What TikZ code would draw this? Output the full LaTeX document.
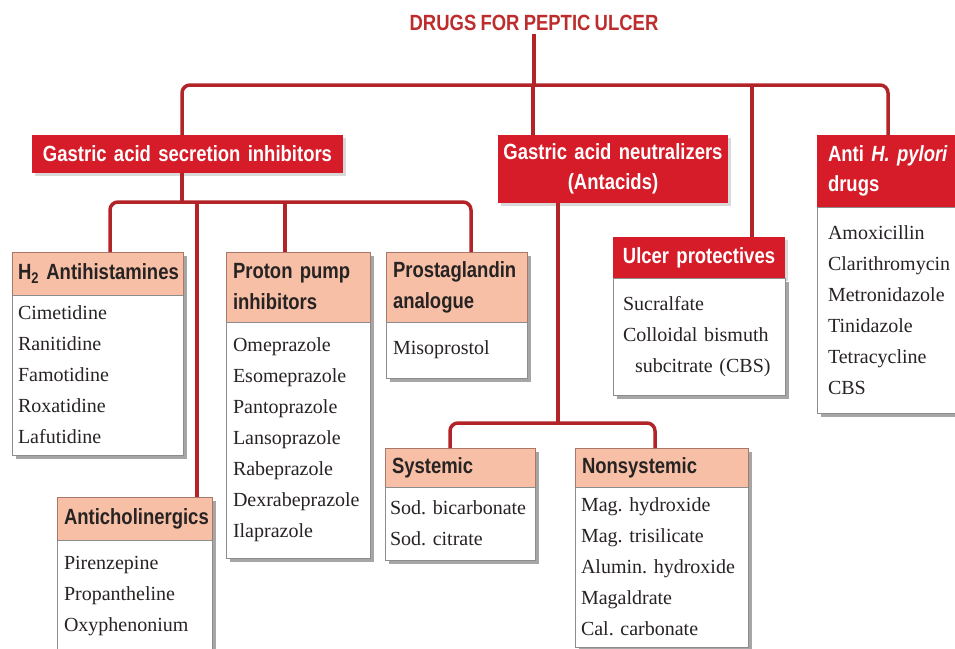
\documentclass[tikz,border=0pt]{standalone}
\usepackage{fontspec}
\setmainfont{Liberation Serif}
\newfontfamily\headfont[FakeStretch=0.84]{Liberation Sans}
\usetikzlibrary{positioning, shadows, calc}

\definecolor{ulcerred}{RGB}{213,28,40}
\definecolor{linkred}{RGB}{178,36,40}
\definecolor{titlered}{RGB}{190,45,45}
\definecolor{salmon}{RGB}{246,191,166}
\definecolor{salmonedge}{RGB}{170,120,105}
\definecolor{boxedge}{RGB}{140,140,140}
\definecolor{inkgray}{RGB}{40,35,35}

\hyphenpenalty=10000
\exhyphenpenalty=10000
\frenchspacing
\newcommand{\headtype}[1]{\headfont\bfseries\fontsize{22}{#1}\selectfont\spaceskip=4.2pt plus 1pt minus 1pt}

\begin{document}
\begin{tikzpicture}[
    x=1pt, y=-1pt,
    every node/.style={outer sep=0pt},
    mainhead/.style={fill=ulcerred, text=white, font=\headtype{30}, align=center, inner sep=0pt, anchor=north west, drop shadow={shadow xshift=3pt, shadow yshift=-3pt, opacity=1, fill=black!15}},
    subhead/.style={draw=salmonedge, line width=0.8pt, fill=salmon, text=inkgray, font=\headtype{31}, align=left, inner xsep=7pt, inner ysep=0pt, anchor=north west, drop shadow={shadow xshift=4pt, shadow yshift=-4pt, opacity=1, fill=black!35}},
    listbox/.style={draw=boxedge, line width=0.8pt, fill=white, text=inkgray, font=\fontsize{20}{31}\selectfont, align=left, inner xsep=7pt, inner ysep=0pt, drop shadow={shadow xshift=4pt, shadow yshift=-4pt, opacity=1, fill=black!35}},
    link/.style={draw=linkred, line width=3.5pt, rounded corners=8pt}
]
    \fill[white] (0,0) rectangle (955,648);
    \useasboundingbox (0,0) rectangle (955,648);

    % Title and first level
    \node[font=\headtype{26}, text=titlered] (title) at (534,23) {DRUGS FOR PEPTIC ULCER};
    \node[mainhead, text width=311pt, minimum height=38pt] (gasi) at (32,135) {Gastric acid secretion inhibitors};
    \node[mainhead, text width=230pt, minimum height=68pt] (gan) at (498,135) {Gastric acid neutralizers\\(Antacids)};
    \node[mainhead, align=left, inner xsep=11pt, text width=128pt, minimum height=72pt] (hpyh) at (817,135) {Anti \textit{H. pylori}\\drugs};
    \node[listbox, inner xsep=11pt, text width=128pt, minimum height=206pt, below=0pt of hpyh] (hpyl) {Amoxicillin\\Clarithromycin\\Metronidazole\\Tinidazole\\Tetracycline\\CBS};
    \node[mainhead, text width=172pt, minimum height=41pt] (ulch) at (613,237) {Ulcer protectives};
    \node[listbox, inner xsep=10pt, text width=152pt, minimum height=117pt, below=0pt of ulch] (ulcl) {Sucralfate\\Colloidal bismuth\\\hspace*{12pt}subcitrate (CBS)};

    % Secretion inhibitors
    \node[subhead, inner xsep=6pt, text width=159pt, minimum height=43pt] (h2h) at (12,252) {H\textsubscript{2}~Antihistamines};
    \node[listbox, inner xsep=6pt, text width=159pt, minimum height=160pt, below=0pt of h2h] (h2l) {Cimetidine\\Ranitidine\\Famotidine\\Roxatidine\\Lafutidine};
    \node[subhead, text width=130pt, minimum height=70pt] (ppih) at (226,252) {Proton pump\\inhibitors};
    \node[listbox, text width=130pt, minimum height=236pt, below=0pt of ppih] (ppil) {Omeprazole\\Esomeprazole\\Pantoprazole\\Lansoprazole\\Rabeprazole\\Dexrabeprazole\\Ilaprazole};
    \node[subhead, text width=127pt, minimum height=70pt] (pgh) at (386,252) {Prostaglandin\\analogue};
    \node[listbox, text width=127pt, minimum height=56pt, below=0pt of pgh] (pgl) {Misoprostol};
    \node[subhead, text width=141pt, minimum height=43pt] (achh) at (57,497) {Anticholinergics};
    \node[listbox, text width=141pt, minimum height=112pt, below=0pt of achh] (achl) {Pirenzepine\\Propantheline\\Oxyphenonium};

    % Antacids
    \node[subhead, text width=136pt, minimum height=39pt] (sysh) at (385,448) {Systemic};
    \node[listbox, inner xsep=5pt, text width=140pt, minimum height=73pt, below=0pt of sysh] (sysl) {Sod. bicarbonate\\Sod. citrate};
    \node[subhead, text width=159pt, minimum height=39pt] (nsyh) at (575,448) {Nonsystemic};
    \node[listbox, inner xsep=6pt, text width=161pt, minimum height=160pt, below=0pt of nsyh] (nsyl) {Mag. hydroxide\\Mag. trisilicate\\Alumin. hydroxide\\Magaldrate\\Cal. carbonate};

    % Junction points
    \coordinate (top) at (533,85);
    \coordinate (mid) at (182,202);
    \coordinate (low) at (558,423);
    \coordinate (gasitop) at ([xshift=150pt]gasi.north west);
    \coordinate (gasibot) at ([xshift=150pt]gasi.south west);
    \coordinate (gantop) at ([xshift=35pt]gan.north west);
    \coordinate (ganbot) at ([xshift=60pt]gan.south west);
    \coordinate (hpytop) at ([xshift=71pt]hpyh.north west);
    \coordinate (ulctop) at ([xshift=139pt]ulch.north west);
    \coordinate (h2top) at ([xshift=98pt]h2h.north west);
    \coordinate (ppitop) at ([xshift=59pt]ppih.north west);
    \coordinate (pgtop) at ([xshift=85pt]pgh.north west);
    \coordinate (achtop) at ([xshift=140pt]achh.north west);
    \coordinate (systop) at ([xshift=65pt]sysh.north west);
    \coordinate (nsytop) at ([xshift=80pt]nsyh.north west);

    % Connections
    \draw[link] (title.south) -- (title.south |- top);
    \draw[link] (gasitop) |- (top) -| (hpytop);
    \draw[link] (gantop) -- (gantop |- top);
    \draw[link] (ulctop) -- (ulctop |- top);
    \draw[link] (gasibot) -- (mid);
    \draw[link] (h2top) |- (mid) -| (pgtop);
    \draw[link] (ppitop) -- (ppitop |- mid);
    \draw[link] (achtop) -- (achtop |- mid);
    \draw[link] (ganbot) -- (low);
    \draw[link] (systop) |- (low) -| (nsytop);
\end{tikzpicture}
\end{document}
